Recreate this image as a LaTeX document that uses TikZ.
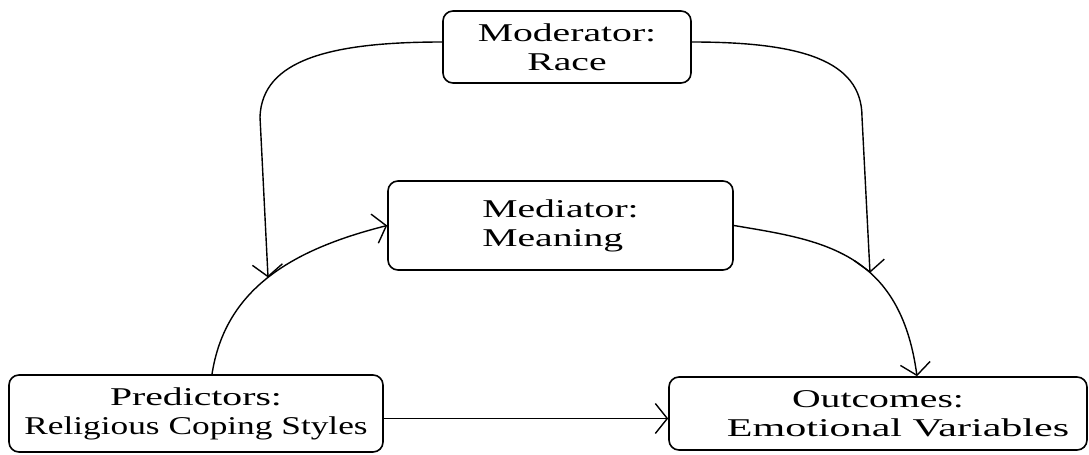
\documentclass[tikz,border=0pt]{standalone}
\usepackage{fontspec}
\setmainfont{Liberation Serif}[FakeStretch=1.55]
\usetikzlibrary{arrows.meta}
\begin{document}
\begin{tikzpicture}[x=0.5pt,y=-0.5pt,
  box/.style={draw, line width=0.8pt, rounded corners=5pt, inner sep=0pt,
    font=\fontsize{12.8pt}{14.5pt}\selectfont},
  conn/.style={line width=0.7pt, -{Straight Barb[length=6pt,width=15pt,line width=0.7pt]}},
  plain/.style={line width=0.7pt}]
\useasboundingbox (0,0) rectangle (1089,455);
\node[box, minimum width=124pt, minimum height=36pt, align=center] (mod) at (567,47) {Moderator:\\Race};
\node[box, minimum width=172.5pt, minimum height=44.5pt, align=left] (med) at (560.5,225.5) {Mediator:\\Meaning};
\node[box, minimum width=187pt, minimum height=38.5pt, align=center] (pred) at (196,413.5) {Predictors:\\\scalebox{0.89}[1]{Religious Coping Styles}};
\node[box, minimum width=418pt/2, minimum height=36.5pt, align=center] (out) at (878,413.5) {Outcomes:\\\hspace*{20pt}\scalebox{1.06}[1]{Emotional Variables}};
\coordinate (lbend) at (260,117);
\coordinate (rbend) at (862,117);
\draw[conn] ([xshift=8pt]pred.north) .. controls (225,290) and (290,250) .. coordinate[pos=0.5] (j1) (med.west);
\draw[conn] (med.east) .. controls (820,240) and (900,250) .. coordinate[pos=0.6] (j2) ([xshift=19.5pt]out.north);
\draw[conn] ([yshift=2.5pt]mod.west) .. controls (330,42) and (262,60) .. (lbend) -- (j1);
\draw[conn] ([yshift=2.5pt]mod.east) .. controls (800,42) and (862,60) .. (rbend) -- (j2);
\draw[conn] ([yshift=-2.5pt]pred.east) -- ([yshift=-2.5pt]out.west);
\end{tikzpicture}
\end{document}
